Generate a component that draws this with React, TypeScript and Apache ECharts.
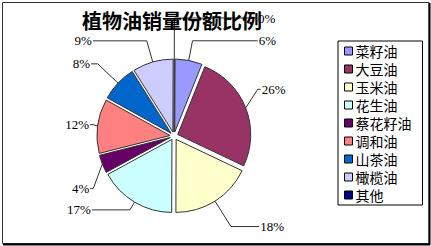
import React, { useEffect, useRef } from "react";
import * as echarts from "echarts";

const categories = ["菜籽油", "大豆油", "玉米油", "花生油", "蔡花籽油", "调和油", "山茶油", "橄榄油", "其他"];
const shares = [6, 26, 18, 17, 4, 12, 8, 9, 0];
const colors = ["#9999FF", "#993366", "#FFFFCC", "#CCFFFF", "#660066", "#FF8080", "#0066CC", "#CCCCFF", "#000080"];
const titleText = "植物油销量份额比例";

export default function App() {
  const ref = useRef<HTMLDivElement>(null);
  useEffect(() => {
    if (!ref.current) return;
    const chart = echarts.init(ref.current, null, { renderer: "svg" });
    const leftEnd = 94;
    const rightStart = 257;
    // first-segment lengths of the leader lines (style)
    const leaderLens = [20, 51, 30, 9, 67, 11, 28, 22, 41];
    chart.setOption({
      animation: false,
      backgroundColor: "#fff",
      title: {
        text: titleText,
        left: 82,
        top: 10,
        padding: 0,
        z: 10,
        textStyle: { fontFamily: "Noto Sans CJK SC", fontSize: 20, fontWeight: "bold", color: "#000", lineHeight: 20 },
      },
      legend: {
        orient: "vertical",
        left: 338,
        top: 41,
        padding: [3, 11, 3, 6],
        itemGap: 4,
        itemWidth: 8,
        itemHeight: 8,
        icon: "rect",
        selectedMode: false,
        borderColor: "#000",
        borderWidth: 1,
        backgroundColor: "#fff",
        itemStyle: { borderColor: "#000", borderWidth: 1 },
        textStyle: { fontFamily: "Noto Sans CJK SC", fontSize: 14, color: "#000", lineHeight: 14, padding: [0, 0, 0, -2] },
        data: categories,
      },
      graphic: [
        { type: "rect", shape: { x: 2.5, y: 2.5, width: 426.5, height: 241 }, style: { fill: "none", stroke: "#333", lineWidth: 1 }, silent: true },
        { type: "line", shape: { x1: 429.5, y1: 3, x2: 429.5, y2: 245 }, style: { stroke: "#000", lineWidth: 2 }, silent: true },
        { type: "line", shape: { x1: 3, y1: 244.5, x2: 430, y2: 244.5 }, style: { stroke: "#000", lineWidth: 2 }, silent: true },
      ],
      series: [
        {
          type: "pie",
          center: [174, 136],
          radius: 73,
          startAngle: 89.8,
          clockwise: true,
          selectedMode: "multiple",
          selectedOffset: 4,
          avoidLabelOverlap: false,
          label: {
            show: true,
            position: "outside",
            alignTo: "none",
            formatter: (p: any) => p.value + "%",
            fontFamily: "Liberation Serif",
            fontSize: 13,
            color: "#000",
          },
          labelLine: { show: true, length: 18, length2: 6, smooth: false, lineStyle: { color: "#333", width: 1 } },
          labelLayout: (p: any) => {
            const pts = p.labelLinePoints;
            const r = p.labelRect;
            if (!pts || !r) return {};
            const isLeft = pts[2][0] < pts[1][0];
            const ly = r.y + r.height / 2;
            const endX = isLeft ? leftEnd : rightStart;
            const ex = isLeft ? Math.max(pts[1][0], endX + 3) : Math.min(pts[1][0], endX - 3);
            const dx = isLeft ? endX - 1 - (r.x + r.width) : endX + 1 - r.x;
            return {
              dx,
              labelLinePoints: [pts[0], [ex, ly], [endX, ly]],
            };
          },
          itemStyle: { borderColor: "#333", borderWidth: 1 },
          emphasis: { disabled: true },
          select: { itemStyle: { borderColor: "#333", borderWidth: 1 } },
          data: categories.map((n, i) => ({
            name: n,
            value: shares[i],
            selected: true,
            itemStyle: { color: colors[i] },
            labelLine: { length: leaderLens[i] },
          })),
        },
      ],
    });
    return () => chart.dispose();
  }, []);
  return <div ref={ref} style={{ position: "absolute", left: 0, top: 0, width: 431, height: 246 }} />;
}
